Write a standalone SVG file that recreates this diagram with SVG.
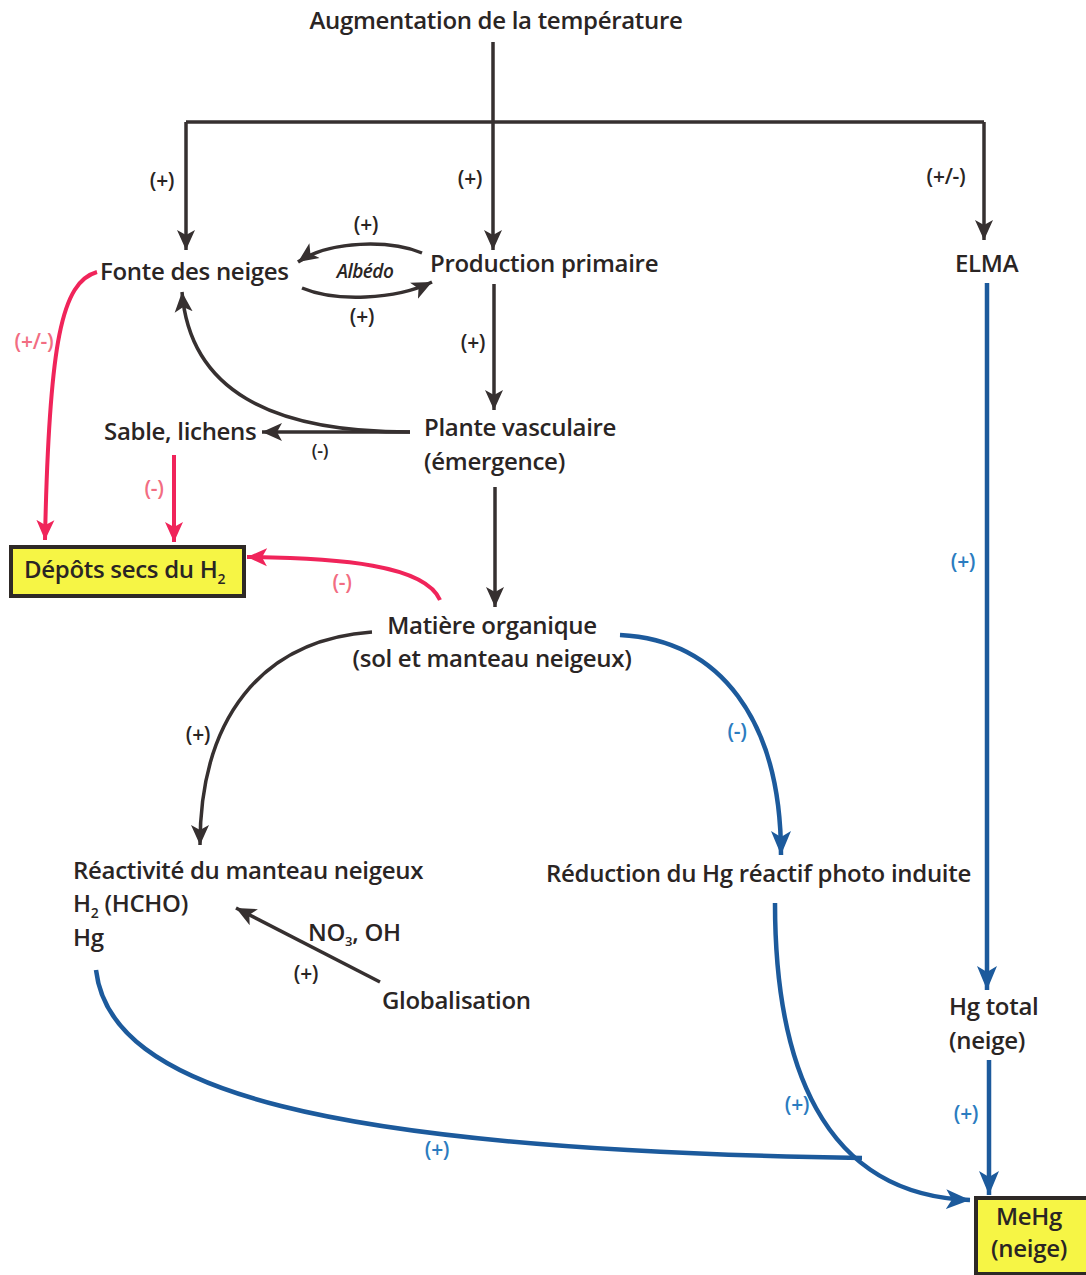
<svg xmlns="http://www.w3.org/2000/svg" width="1086" height="1275" viewBox="0 0 1086 1275">
<style>
.t{font-family:"Open Sans","Liberation Sans",sans-serif;font-size:24px;font-weight:600;fill:#2a2524;letter-spacing:-0.3px}
.lb{font-family:"Open Sans","Liberation Sans",sans-serif;font-size:21px;font-weight:600;letter-spacing:-0.3px}
.k{fill:#2a2524}.r{fill:#f26d82}.b{fill:#2b7cc0}
.dk{fill:none;stroke:#363030;stroke-width:3.5}
.rd{fill:none;stroke:#f0245a;stroke-width:4}
.bl{fill:none;stroke:#1c5a9c;stroke-width:4.5}
.box{fill:#f6f545;stroke:#2e2926;stroke-width:4}
</style>
<defs>
<marker id="ak" markerUnits="userSpaceOnUse" markerWidth="24" markerHeight="24" viewBox="-20 -10 24 20" refX="0" refY="0" orient="auto"><path d="M0,0 L-20,-9 L-15,0 L-20,9 Z" fill="#363030"/></marker>
<marker id="ar" markerUnits="userSpaceOnUse" markerWidth="24" markerHeight="24" viewBox="-20 -10 24 20" refX="0" refY="0" orient="auto"><path d="M0,0 L-20,-9 L-15,0 L-20,9 Z" fill="#f0245a"/></marker>
<marker id="ab" markerUnits="userSpaceOnUse" markerWidth="28" markerHeight="28" viewBox="-24 -12 28 24" refX="0" refY="0" orient="auto"><path d="M0,0 L-24,-10 L-18,0 L-24,10 Z" fill="#1c5a9c"/></marker>
</defs>
<g id="connectors">
<path class="dk" d="M493,42 V122 M186,122 H984"/>
<path class="dk" d="M186,122 V250" marker-end="url(#ak)"/>
<path class="dk" d="M493,122 V250" marker-end="url(#ak)"/>
<path class="dk" d="M984,122 V240" marker-end="url(#ak)"/>
<path class="dk" d="M422,253 C390,240 330,240 298,262" marker-end="url(#ak)"/>
<path class="dk" d="M302,288 C335,302 395,300 432,282" marker-end="url(#ak)"/>
<path class="dk" d="M494,284 V410" marker-end="url(#ak)"/>
<path class="dk" d="M410,432 H262" marker-end="url(#ak)"/>
<path class="dk" d="M410,432 C270,432 190,390 182,292" marker-end="url(#ak)"/>
<path class="dk" d="M495,487 V607" marker-end="url(#ak)"/>
<path class="dk" d="M372,632 C260,640 200,720 200,845" marker-end="url(#ak)"/>
<path class="dk" d="M380,982 L236,908" marker-end="url(#ak)"/>
<path class="rd" d="M97,272 C62,282 49,340 45,540" marker-end="url(#ar)"/>
<path class="rd" d="M174,455 V542" marker-end="url(#ar)"/>
<path class="rd" d="M440,600 C425,565 340,558 247,557" marker-end="url(#ar)"/>
<path class="bl" d="M620,635 C720,640 781,720 781,855" marker-end="url(#ab)"/>
<path class="bl" d="M987,283 V990" marker-end="url(#ab)"/>
<path class="bl" d="M989,1060 V1195" marker-end="url(#ab)"/>
<path class="bl" d="M775,903 C775,1060 820,1195 970,1200" marker-end="url(#ab)"/>
<path class="bl" d="M96,970 C110,1090 320,1150 862,1158"/>
</g>
<g id="labels">
<text class="lb k" x="162" y="188" text-anchor="middle">(+)</text>
<text class="lb k" x="470" y="186" text-anchor="middle">(+)</text>
<text class="lb k" x="946" y="184" text-anchor="middle">(+/-)</text>
<text class="lb k" x="366" y="232" text-anchor="middle">(+)</text>
<text class="lb k" x="362" y="324" text-anchor="middle">(+)</text>
<text x="365" y="278" text-anchor="middle" style="font-family:'Open Sans','Liberation Sans',sans-serif;font-size:19px;font-weight:600;font-style:italic;fill:#2a2524;letter-spacing:-0.5px">Albédo</text>
<text class="lb k" x="473" y="350" text-anchor="middle">(+)</text>
<text class="lb k" x="320" y="457" text-anchor="middle" style="font-size:18px">(-)</text>
<text class="lb r" x="34" y="349" text-anchor="middle">(+/-)</text>
<text class="lb r" x="154" y="496" text-anchor="middle">(-)</text>
<text class="lb r" x="342" y="590" text-anchor="middle">(-)</text>
<text class="lb k" x="198" y="742" text-anchor="middle">(+)</text>
<text class="lb b" x="737" y="739" text-anchor="middle">(-)</text>
<text class="lb b" x="963" y="569" text-anchor="middle">(+)</text>
<text class="t" x="308" y="941">NO<tspan dy="5" style="font-size:13px">3</tspan><tspan dy="-5">, OH</tspan></text>
<text class="lb k" x="306" y="981" text-anchor="middle">(+)</text>
<text class="lb b" x="966" y="1121" text-anchor="middle">(+)</text>
<text class="lb b" x="797" y="1112" text-anchor="middle">(+)</text>
<text class="lb b" x="437" y="1157" text-anchor="middle">(+)</text>
</g>
<g id="n-temp"><text class="t" x="496" y="29" text-anchor="middle">Augmentation de la température</text></g>
<g id="n-fonte"><text class="t" x="100" y="280">Fonte des neiges</text></g>
<g id="n-prod"><text class="t" x="430" y="272">Production primaire</text></g>
<g id="n-elma"><text class="t" x="955" y="272">ELMA</text></g>
<g id="n-plante"><text class="t" x="424" y="436">Plante vasculaire</text><text class="t" x="424" y="470">(émergence)</text></g>
<g id="n-sable"><text class="t" x="104" y="440">Sable, lichens</text></g>
<g id="n-depots"><rect class="box" x="11" y="547" width="233" height="49"/><text class="t" x="24" y="578">Dépôts secs du H<tspan dy="6" style="font-size:14px">2</tspan></text></g>
<g id="n-matiere"><text class="t" x="492" y="634" text-anchor="middle">Matière organique</text><text class="t" x="492" y="667" text-anchor="middle">(sol et manteau neigeux)</text></g>
<g id="n-reactivite"><text class="t" x="73" y="879">Réactivité du manteau neigeux</text><text class="t" x="73" y="912">H<tspan dy="6" style="font-size:14px">2</tspan><tspan dy="-6"> (HCHO)</tspan></text><text class="t" x="73" y="946">Hg</text></g>
<g id="n-reduction"><text class="t" x="546" y="882">Réduction du Hg réactif photo induite</text></g>
<g id="n-global"><text class="t" x="382" y="1009">Globalisation</text></g>
<g id="n-hgtotal"><text class="t" x="949" y="1015">Hg total</text><text class="t" x="949" y="1049">(neige)</text></g>
<g id="n-mehg"><rect class="box" x="976" y="1198" width="112" height="76"/><text class="t" x="1029" y="1225" text-anchor="middle">MeHg</text><text class="t" x="1029" y="1257" text-anchor="middle">(neige)</text></g>
</svg>
